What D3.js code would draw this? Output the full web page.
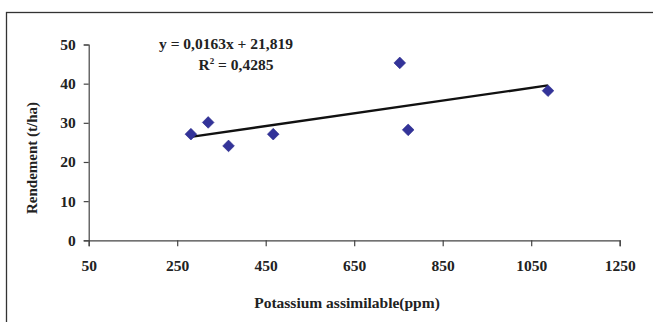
<!DOCTYPE html>
<html>
<head>
<meta charset="utf-8">
<script src="https://cdn.jsdelivr.net/npm/d3@7"></script>
<style>
  html, body { margin: 0; padding: 0; background: #fff; }
  svg { display: block; font-family: "Liberation Serif", "Times New Roman", serif; font-weight: bold; }
</style>
</head>
<body>
<div id="chart"></div>
<script>
// Data
const potassium = [281, 320, 366, 467, 753, 772, 1088];
const rendement = [27.1, 30.1, 24.1, 27.1, 45.3, 28.2, 38.2];
const xTicks = [50, 250, 450, 650, 850, 1050, 1250];
const yTicks = [0, 10, 20, 30, 40, 50];
const trendSlope = 0.0163;
const trendIntercept = 21.819;
const equationLines = ["y = 0,0163x + 21,819", "R = 0,4285"];

const W = 653, H = 322;
const margin = { top: 44.5, right: 33.3, bottom: 81.7, left: 88.7 };
const width = W - margin.left - margin.right;
const height = H - margin.top - margin.bottom;

const svg = d3.select('#chart').append('svg')
  .attr('width', W)
  .attr('height', H);

// chart frame (only the top and left edges are inside the picture)
svg.append('rect')
  .attr('x', 6.5).attr('y', 12.5)
  .attr('width', W + 20).attr('height', H + 20)
  .attr('fill', 'none')
  .attr('stroke', '#333')
  .attr('stroke-width', 1.3);

const g = svg.append('g')
  .attr('transform', `translate(${margin.left},${margin.top})`);

const x = d3.scaleLinear().domain([50, 1250]).range([0, width]);
const y = d3.scaleLinear().domain([0, 50]).range([height, 0]);

// X axis
const xAxis = g.append('g')
  .attr('transform', `translate(0,${height})`)
  .call(d3.axisBottom(x).tickValues(xTicks).tickSize(6).tickPadding(14).tickFormat(d3.format('d')));

// Y axis
const yAxis = g.append('g')
  .call(d3.axisLeft(y).tickValues(yTicks).tickSize(5).tickPadding(8).tickFormat(d3.format('d')));

[xAxis, yAxis].forEach(a => {
  a.select('.domain').attr('stroke', '#444').attr('stroke-width', 1.2);
  a.selectAll('.tick line').attr('stroke', '#444').attr('stroke-width', 1.2);
  a.selectAll('.tick text')
    .attr('fill', '#222')
    .style('font-family', '"Liberation Serif", serif')
    .style('font-weight', 'bold')
    .style('font-size', '15.5px');
});

// Trend line between the smallest and largest x value
const xExt = d3.extent(potassium);
g.append('path')
  .datum(xExt)
  .attr('fill', 'none')
  .attr('stroke', '#111')
  .attr('stroke-width', 2.4)
  .attr('d', d3.line()
    .x(d => x(d))
    .y(d => y(trendSlope * d + trendIntercept)));

// Points
g.selectAll('.pt')
  .data(potassium.map((p, i) => ({ x: p, y: rendement[i] })))
  .enter().append('path')
  .attr('class', 'pt')
  .attr('d', d3.symbol().type(d3.symbolSquare).size(68))
  .attr('transform', d => `translate(${x(d.x)},${y(d.y)}) rotate(45)`)
  .attr('fill', '#333399')
  .attr('stroke', '#2a2a8c')
  .attr('stroke-width', 0.6);

// Equation
svg.append('text')
  .attr('x', 226).attr('y', 49)
  .attr('text-anchor', 'middle')
  .attr('fill', '#222')
  .style('font-size', '15.5px')
  .text(equationLines[0]);

const r2 = svg.append('text')
  .attr('x', 236).attr('y', 70)
  .attr('text-anchor', 'middle')
  .attr('fill', '#222')
  .style('font-size', '15.5px');
r2.append('tspan').text('R');
r2.append('tspan').attr('dy', -6).style('font-size', '9px').text('2');
r2.append('tspan').attr('dy', 6).text(' = 0,4285');

// Axis titles
svg.append('text')
  .attr('x', 347).attr('y', 308)
  .attr('text-anchor', 'middle')
  .attr('fill', '#222')
  .style('font-size', '15.5px')
  .text('Potassium assimilable(ppm)');

svg.append('text')
  .attr('transform', 'translate(37,158) rotate(-90)')
  .attr('text-anchor', 'middle')
  .attr('fill', '#222')
  .style('font-size', '15px')
  .text('Rendement (t/ha)');
</script>
</body>
</html>
